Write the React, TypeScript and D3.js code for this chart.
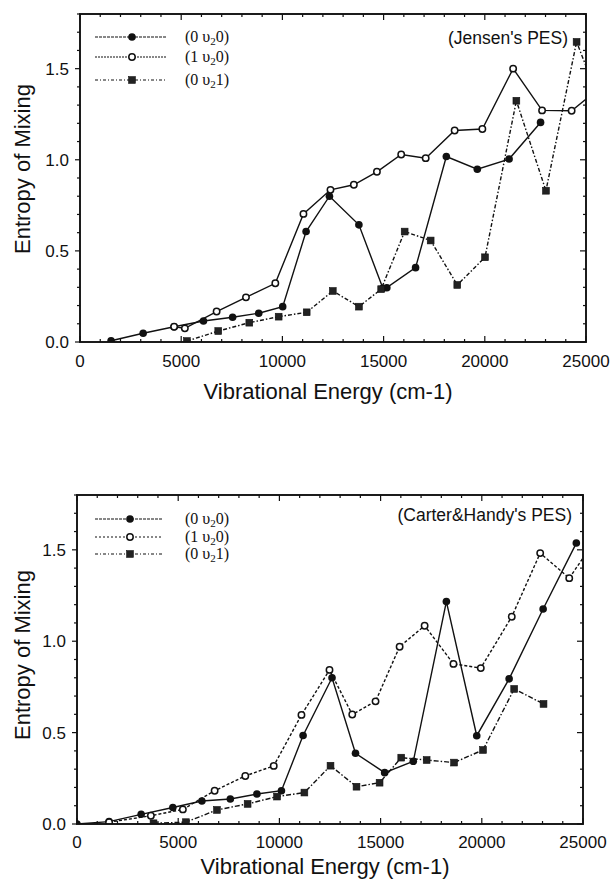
import React from "react";
import * as d3 from "d3";

// ---------- data (energy in cm-1, entropy of mixing) ----------
const xTicks = [0, 5000, 10000, 15000, 20000, 25000];
const yTicks = [0, 0.5, 1.0, 1.5];

// Top panel: Jensen's PES
const topS1: [number, number][] = [
  [1535, 0.007], [3120, 0.048], [4650, 0.084], [6100, 0.115], [7540, 0.136],
  [8830, 0.158], [10015, 0.194], [11170, 0.606], [12325, 0.8], [13780, 0.643],
  [14965, 0.295], [15160, 0.298], [16580, 0.408], [18100, 1.018], [19630, 0.948],
  [21200, 1.004], [22755, 1.205],
];
const topS2: [number, number][] = [
  [4650, 0.084], [5180, 0.075], [6750, 0.167], [8200, 0.245], [9650, 0.322],
  [11040, 0.703], [12375, 0.835], [13530, 0.863], [14670, 0.934], [15870, 1.029],
  [17080, 1.009], [18510, 1.161], [19880, 1.169], [21400, 1.5], [22830, 1.271],
  [24290, 1.269], [25300, 1.36],
];
const topS3: [number, number][] = [
  [5280, 0.005], [6830, 0.06], [8365, 0.106], [9815, 0.139], [11200, 0.163],
  [12490, 0.28], [13780, 0.194], [14880, 0.29], [16040, 0.606], [17325, 0.557],
  [18640, 0.313], [20010, 0.465], [21560, 1.324], [23020, 0.83], [24535, 1.647],
  [25400, 1.4],
];

// Bottom panel: Carter & Handy's PES
const botS1: [number, number][] = [
  [0, 0.0], [1585, 0.013], [3170, 0.053], [4735, 0.09], [6170, 0.126],
  [7575, 0.137], [8890, 0.164], [10100, 0.182], [11170, 0.484], [12600, 0.8],
  [13760, 0.387], [15200, 0.281], [16615, 0.343], [18250, 1.217], [19750, 0.483],
  [21350, 0.794], [23030, 1.176], [24670, 1.537],
];
const botS2: [number, number][] = [
  [1585, 0.01], [3650, 0.045], [5230, 0.08], [6800, 0.182], [8315, 0.263],
  [9720, 0.318], [11090, 0.597], [12475, 0.843], [13600, 0.599], [14750, 0.671],
  [15940, 0.97], [17175, 1.085], [18600, 0.876], [19950, 0.853], [21480, 1.134],
  [22885, 1.482], [24320, 1.345], [25400, 1.52],
];
const botS3: [number, number][] = [
  [3780, 0.004], [5380, 0.01], [6915, 0.077], [8430, 0.11], [9885, 0.15],
  [11235, 0.172], [12525, 0.319], [13810, 0.204], [14950, 0.226], [16020, 0.363],
  [17275, 0.35], [18630, 0.336], [20060, 0.405], [21600, 0.739], [23050, 0.657],
];

type Series = { data: [number, number][]; marker: "filled" | "open" | "square"; dash: string; legendDash: string; sub: string; pre: string; post: string };

const sansFont = "'Liberation Sans', Arial, Helvetica, sans-serif";
const serifFont = "'Liberation Serif', 'Times New Roman', serif";

function Marker({ kind, x, y }: { kind: string; x: number; y: number }) {
  if (kind === "filled") return <circle cx={x} cy={y} r={3.8} fill="#111" />;
  if (kind === "open") return <circle cx={x} cy={y} r={3.2} fill="#fff" stroke="#111" strokeWidth={1.5} />;
  return <rect x={x - 3.4} y={y - 3.4} width={6.8} height={6.8} fill="#222" stroke="#111" strokeWidth={0.6} />;
}

function Panel(props: {
  left: number; right: number; top: number; bottom: number; id: string;
  series: Series[]; note: string; noteX: number; noteY: number;
  legendY: number[]; legendX1: number; legendX2: number; markerX: number; textX: number;
  xLabelY: number; xTitleY: number; yTitleY: number;
}) {
  const { left, right, top, bottom, id, series } = props;
  const x = d3.scaleLinear().domain([0, 25000]).range([left, right]);
  const y = d3.scaleLinear().domain([0, 1.8]).range([bottom, top]);
  const line = d3.line<[number, number]>().x((d) => x(d[0])).y((d) => y(d[1]));
  const minorX = d3.range(0, 25001, 1000);
  const minorY = d3.range(0, 1.801, 0.1);
  return (
    <g>
      <defs>
        <clipPath id={id}>
          <rect x={left} y={top} width={right - left} height={bottom - top} />
        </clipPath>
      </defs>
      {/* data */}
      <g clipPath={`url(#${id})`}>
        {series.map((s, i) => (
          <path key={i} d={line(s.data) || ""} fill="none" stroke="#111" strokeWidth={1.4} strokeDasharray={s.dash} />
        ))}
        {series.map((s, i) => (
          <g key={"m" + i}>
            {s.data.map((d, j) => (
              <Marker key={j} kind={s.marker} x={x(d[0])} y={y(d[1])} />
            ))}
          </g>
        ))}
      </g>
      {/* frame */}
      <rect x={left} y={top} width={right - left} height={bottom - top} fill="none" stroke="#111" strokeWidth={1.9} />
      {/* ticks */}
      {minorX.map((v) => {
        const major = v % 5000 === 0;
        const len = major ? 6 : 3;
        return (
          <g key={"xt" + v}>
            <line x1={x(v)} x2={x(v)} y1={bottom} y2={bottom - len} stroke="#111" strokeWidth={1.2} />
            <line x1={x(v)} x2={x(v)} y1={top} y2={top + len} stroke="#111" strokeWidth={1.2} />
          </g>
        );
      })}
      {minorY.map((v, i) => {
        const major = i % 5 === 0;
        return (
          <g key={"yt" + i}>
            <line x1={left} x2={left - (major ? 5 : 3)} y1={y(v)} y2={y(v)} stroke="#111" strokeWidth={1.2} />
            <line x1={right} x2={right - (major ? 6 : 3)} y1={y(v)} y2={y(v)} stroke="#111" strokeWidth={1.2} />
          </g>
        );
      })}
      {/* tick labels */}
      {xTicks.map((v) => (
        <text key={"xl" + v} x={x(v)} y={props.xLabelY} textAnchor="middle" fontFamily={sansFont} fontSize={17} fill="#111">
          {v}
        </text>
      ))}
      {yTicks.map((v) => (
        <text key={"yl" + v} x={left - 11} y={y(v) + 6} textAnchor="end" fontFamily={sansFont} fontSize={17} fill="#111">
          {v.toFixed(1)}
        </text>
      ))}
      {/* titles */}
      <text x={(left + right) / 2 - 5} y={props.xTitleY} textAnchor="middle" fontFamily={sansFont} fontSize={22} fill="#111">
        Vibrational Energy (cm-1)
      </text>
      <text transform={`translate(30,${props.yTitleY}) rotate(-90)`} textAnchor="middle" fontFamily={sansFont} fontSize={22} fill="#111">
        Entropy of Mixing
      </text>
      <text x={props.noteX} y={props.noteY} textAnchor="end" fontFamily={sansFont} fontSize={17.5} fill="#111">
        {props.note}
      </text>
      {/* legend */}
      {series.map((s, i) => (
        <g key={"lg" + i}>
          <line x1={props.legendX1} x2={props.legendX2} y1={props.legendY[i]} y2={props.legendY[i]} stroke="#111" strokeWidth={1.1} strokeDasharray={s.legendDash} />
          <Marker kind={s.marker} x={props.markerX} y={props.legendY[i]} />
          <text x={props.textX} y={props.legendY[i] + 5} fontFamily={serifFont} fontSize={16} fill="#111">
            {s.pre}
            <tspan fontSize={11} dy={3}>{s.sub}</tspan>
            <tspan dy={-3}>{s.post}</tspan>
          </text>
        </g>
      ))}
    </g>
  );
}

export default function App() {
  const topSeries: Series[] = [
    { data: topS1, marker: "filled", dash: "none", legendDash: "3,1", pre: "(0 υ", sub: "2", post: "0)" },
    { data: topS2, marker: "open", dash: "none", legendDash: "2,1", pre: "(1 υ", sub: "2", post: "0)" },
    { data: topS3, marker: "square", dash: "4,2,1.5,2", legendDash: "3,2,1,2", pre: "(0 υ", sub: "2", post: "1)" },
  ];
  const botSeries: Series[] = [
    { data: botS1, marker: "filled", dash: "none", legendDash: "3,1", pre: "(0 υ", sub: "2", post: "0)" },
    { data: botS2, marker: "open", dash: "3,2", legendDash: "2,2", pre: "(1 υ", sub: "2", post: "0)" },
    { data: botS3, marker: "square", dash: "5,2,1.5,2", legendDash: "3,2,1,2", pre: "(0 υ", sub: "2", post: "1)" },
  ];
  return (
    <svg width={611} height={885} style={{ position: "absolute", left: 0, top: 0, background: "#fff" }}>
      <rect width={611} height={885} fill="#fff" />
      <Panel
        id="clipTop" left={80} right={586} top={14} bottom={342} series={topSeries}
        note="(Jensen's PES)" noteX={568} noteY={44}
        legendY={[37, 57, 80]} legendX1={95} legendX2={166} markerX={132} textX={185}
        xLabelY={367} xTitleY={399} yTitleY={169}
      />
      <Panel
        id="clipBot" left={77} right={583} top={495} bottom={824} series={botSeries}
        note="(Carter&Handy's PES)" noteX={572} noteY={521}
        legendY={[519, 537, 554]} legendX1={95} legendX2={162} markerX={130} textX={185}
        xLabelY={848} xTitleY={874} yTitleY={655}
      />
    </svg>
  );
}
